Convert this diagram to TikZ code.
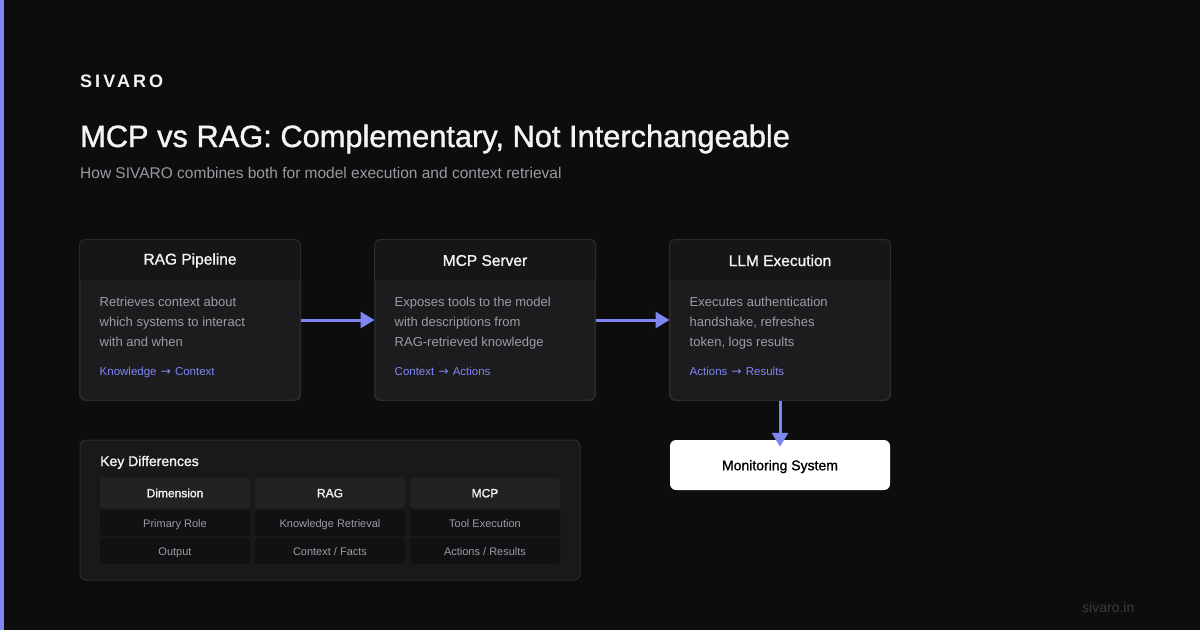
\documentclass[tikz,border=0pt]{standalone}
\usepackage{fontspec}
\setmainfont{Liberation Sans}
\newfontfamily\spacedfont[LetterSpace=17]{Liberation Sans}
\newfontfamily\medfont[FakeBold=1.2]{Liberation Sans}
\newfontfamily\arrowfont{DejaVu Sans}
\usetikzlibrary{arrows.meta}
\definecolor{bg}{HTML}{0D0D0E}
\definecolor{accent}{HTML}{7F86F2}
\definecolor{cardbody}{HTML}{1C1C1F}
\definecolor{cardhead}{HTML}{161618}
\definecolor{cardborder}{HTML}{2B2B2F}
\definecolor{titlewhite}{HTML}{F4F4F5}
\definecolor{bodygray}{HTML}{9C9CA3}
\definecolor{subgray}{HTML}{9A9AA2}
\definecolor{kdfill}{HTML}{19191B}
\definecolor{kdborder}{HTML}{2C2C30}
\definecolor{thead}{HTML}{222225}
\definecolor{trow}{HTML}{111113}
\definecolor{footgray}{HTML}{3C3C40}
\newcommand{\rarr}{\hspace{1pt}{\arrowfont\fontsize{12}{12}\selectfont →}\hspace{1pt}}
\tikzset{
  px/.style={x=1pt,y=-1pt},
  card/.style={draw=cardborder, line width=1pt, fill=cardbody, rounded corners=6pt, minimum width=220pt, minimum height=160pt, inner sep=0pt},
  cardtitle/.style={text=titlewhite, font=\medfont\fontsize{15.5}{18}\selectfont, inner sep=0pt},
  cardtext/.style={text=bodygray, font=\fontsize{13}{20}\selectfont, align=left, anchor=north west, inner sep=0pt},
  cardlink/.style={text=accent, font=\fontsize{11.5}{14}\selectfont, anchor=base west, inner sep=0pt},
  flow/.style={draw=accent, line width=3pt, -{Triangle[length=14pt,width=16pt]}},
  thcell/.style={fill=thead, rounded corners=3pt, minimum width=150pt, minimum height=30pt, inner sep=0pt, text height=9.6pt, text depth=1pt, text=titlewhite, font=\medfont\fontsize{12}{14}\selectfont},
  tdcell/.style={fill=trow, rounded corners=3pt, minimum width=150pt, minimum height=26pt, inner sep=0pt, text height=9pt, text depth=1pt, text=bodygray, font=\fontsize{11}{13}\selectfont},
}
\begin{document}
\begin{tikzpicture}[px]
\useasboundingbox (0,0) rectangle (1200,630);
\fill[bg] (0,0) rectangle (1200,630);
\fill[accent] (0,0) rectangle (4,630);

% header texts
\node[anchor=base west, inner sep=0pt, text=titlewhite, font=\spacedfont\fontsize{18}{20}\selectfont\bfseries] (brand) at (80,87.5) {SIVARO};
\node[anchor=base west, inner sep=0pt, text=titlewhite, font=\medfont\fontsize{30.8}{34}\selectfont] (title) at (80,147) {MCP vs RAG: Complementary, Not Interchangeable};
\node[anchor=base west, inner sep=0pt, text=subgray, font=\fontsize{15.5}{18}\selectfont] (subtitle) at (80,178.5) {How SIVARO combines both for model execution and context retrieval};

% cards
\foreach \name/\cx/\ttl/\body/\lnk in {
  rag/190/{RAG Pipeline}/{Retrieves context about\\which systems to interact\\with and when}/{Knowledge \rarr{} Context},
  mcp/485/{MCP Server}/{Exposes tools to the model\\with descriptions from\\RAG-retrieved knowledge}/{Context \rarr{} Actions},
  llm/780/{LLM Execution}/{Executes authentication\\handshake, refreshes\\token, logs results}/{Actions \rarr{} Results}} {
  \node[card] (\name) at (\cx,320) {};
  \begin{scope}
    \clip[rounded corners=6pt] (\name.north west) rectangle (\name.south east);
    \fill[cardhead] (\name.north west) rectangle ([yshift=-40pt]\name.north east);
  \end{scope}
  \draw[cardborder, line width=1pt, rounded corners=6pt] (\name.north west) rectangle (\name.south east);
  \node[cardtitle] (\name-title) at (\cx,260.5) {\ttl};
  \node[cardtext] (\name-text) at ([xshift=20pt,yshift=-57pt]\name.north west) {\body};
  \node[cardlink] (\name-link) at ([xshift=20pt,yshift=-136pt]\name.north west) {\lnk};
}

% monitoring
\node[fill=white, rounded corners=6pt, minimum width=220pt, minimum height=50pt, inner sep=0pt, text height=10.5pt, text depth=0pt, text=black, font=\medfont\fontsize{14}{16}\selectfont] (mon) at (780,465) {Monitoring System};

% arrows
\draw[flow] (rag.east) -- (mcp.west);
\draw[flow] (mcp.east) -- (llm.west);
\draw[flow] (llm.south) -- ([yshift=-7pt]mon.north);

% key differences
\node[draw=kdborder, line width=1pt, fill=kdfill, rounded corners=6pt, minimum width=500pt, minimum height=140pt, inner sep=0pt] (kd) at (330,510) {};
\node[anchor=base west, inner sep=0pt, text=titlewhite, font=\medfont\fontsize{14}{16}\selectfont] (kd-title) at (100,466) {Key Differences};
\node[thcell] (h1) at (175,493) {Dimension};
\node[thcell] (h2) at (330,493) {RAG};
\node[thcell] (h3) at (485,493) {MCP};
\node[tdcell] (a1) at (175,523) {Primary Role};
\node[tdcell] (a2) at (330,523) {Knowledge Retrieval};
\node[tdcell] (a3) at (485,523) {Tool Execution};
\node[tdcell] (b1) at (175,551) {Output};
\node[tdcell] (b2) at (330,551) {Context / Facts};
\node[tdcell] (b3) at (485,551) {Actions / Results};

% footer
\node[anchor=base west, inner sep=0pt, text=footgray, font=\fontsize{14}{16}\selectfont] (foot) at (1082,612) {sivaro.in};
\end{tikzpicture}
\end{document}
